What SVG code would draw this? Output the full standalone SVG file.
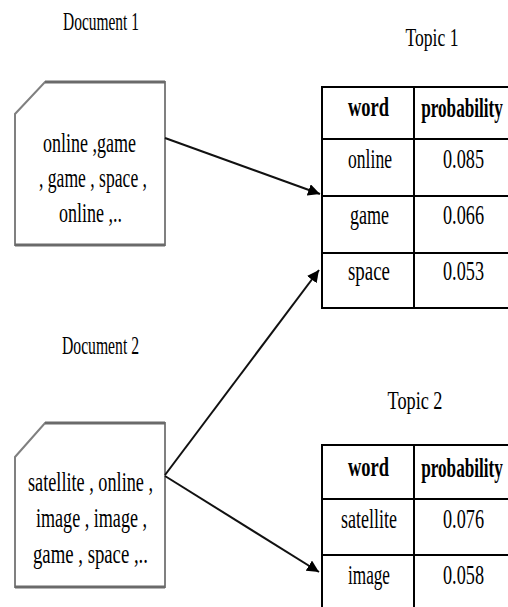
<svg xmlns="http://www.w3.org/2000/svg" width="508" height="607" viewBox="0 0 508 607">
<style>
text{font-family:"Liberation Serif","Times New Roman",serif;fill:#000;text-anchor:middle}
.lbl{font-size:26px}
.t{font-size:27px}
.b{font-size:27px;font-weight:bold}
.doc{fill:#fff;stroke:#808080;stroke-width:2}
.docedge{stroke:#6a6a6a;stroke-width:3;fill:none}
.tbl{fill:#fff;stroke:#000;stroke-width:2}
.grid{stroke:#000;stroke-width:2}
.conn{stroke:#111;stroke-width:2;fill:none;marker-end:url(#arr)}
</style>
<defs>
<marker id="arr" viewBox="0 0 10 10" refX="10" refY="5" markerWidth="6" markerHeight="6" orient="auto" markerUnits="strokeWidth">
<path d="M0,0 L10,5 L0,10 z" fill="#000"/>
</marker>
</defs>
<rect width="508" height="607" fill="#fff"/>

<g id="doc1">
<text class="lbl" x="101" y="30" textLength="76" lengthAdjust="spacingAndGlyphs">Document 1</text>
<polygon class="doc" points="45,82 165,82 165,245 15,245 15,114"/>
<line class="docedge" x1="45" y1="82" x2="165" y2="82"/>
<line class="docedge" x1="15" y1="245" x2="165" y2="245"/>
<text class="t" x="89.5" y="152" textLength="93" lengthAdjust="spacingAndGlyphs">online ,game</text>
<text class="t" x="93" y="187" textLength="108" lengthAdjust="spacingAndGlyphs">, game , space ,</text>
<text class="t" x="90.5" y="222" textLength="63" lengthAdjust="spacingAndGlyphs">online ,..</text>
</g>

<g id="doc2">
<text class="lbl" x="100.5" y="354" textLength="77" lengthAdjust="spacingAndGlyphs">Document 2</text>
<polygon class="doc" points="45,423 165,423 165,587 15,587 15,457"/>
<line class="docedge" x1="45" y1="423" x2="165" y2="423"/>
<line class="docedge" x1="15" y1="587" x2="165" y2="587"/>
<text class="t" x="90.5" y="491" textLength="125" lengthAdjust="spacingAndGlyphs">satellite , online ,</text>
<text class="t" x="91.5" y="527" textLength="111" lengthAdjust="spacingAndGlyphs">image , image ,</text>
<text class="t" x="90.5" y="563" textLength="115" lengthAdjust="spacingAndGlyphs">game , space ,..</text>
</g>

<g id="topic1">
<text class="lbl" x="432" y="46" textLength="53" lengthAdjust="spacingAndGlyphs">Topic 1</text>
<rect class="tbl" x="322" y="87" width="200" height="221"/>
<line class="grid" x1="414" y1="87" x2="414" y2="308"/>
<line class="grid" x1="322" y1="139" x2="522" y2="139"/>
<line class="grid" x1="322" y1="196" x2="522" y2="196"/>
<line class="grid" x1="322" y1="253" x2="522" y2="253"/>
<text class="b" x="368.5" y="116" textLength="41" lengthAdjust="spacingAndGlyphs">word</text>
<text class="b" x="0" y="0" transform="translate(462 117) scale(0.636 1)">probability</text>
<text class="t" x="370" y="168" textLength="44" lengthAdjust="spacingAndGlyphs">online</text>
<text class="t" x="463.5" y="168" textLength="41" lengthAdjust="spacingAndGlyphs">0.085</text>
<text class="t" x="369.5" y="224" textLength="39" lengthAdjust="spacingAndGlyphs">game</text>
<text class="t" x="463.5" y="224" textLength="41" lengthAdjust="spacingAndGlyphs">0.066</text>
<text class="t" x="369" y="280" textLength="42" lengthAdjust="spacingAndGlyphs">space</text>
<text class="t" x="463.5" y="280" textLength="41" lengthAdjust="spacingAndGlyphs">0.053</text>
</g>

<g id="topic2">
<text class="lbl" x="415" y="409" textLength="55" lengthAdjust="spacingAndGlyphs">Topic 2</text>
<rect class="tbl" x="322" y="445" width="200" height="180"/>
<line class="grid" x1="414" y1="445" x2="414" y2="625"/>
<line class="grid" x1="322" y1="499" x2="522" y2="499"/>
<line class="grid" x1="322" y1="555" x2="522" y2="555"/>
<text class="b" x="368.5" y="476" textLength="41" lengthAdjust="spacingAndGlyphs">word</text>
<text class="b" x="0" y="0" transform="translate(462 477) scale(0.636 1)">probability</text>
<text class="t" x="369" y="528" textLength="56" lengthAdjust="spacingAndGlyphs">satellite</text>
<text class="t" x="463.5" y="528" textLength="41" lengthAdjust="spacingAndGlyphs">0.076</text>
<text class="t" x="369" y="584" textLength="42" lengthAdjust="spacingAndGlyphs">image</text>
<text class="t" x="463.5" y="584" textLength="41" lengthAdjust="spacingAndGlyphs">0.058</text>
</g>

<g id="connectors">
<line class="conn" x1="165" y1="138" x2="320" y2="194"/>
<line class="conn" x1="165" y1="475" x2="319" y2="270"/>
<line class="conn" x1="165" y1="476" x2="319" y2="572"/>
</g>
</svg>
